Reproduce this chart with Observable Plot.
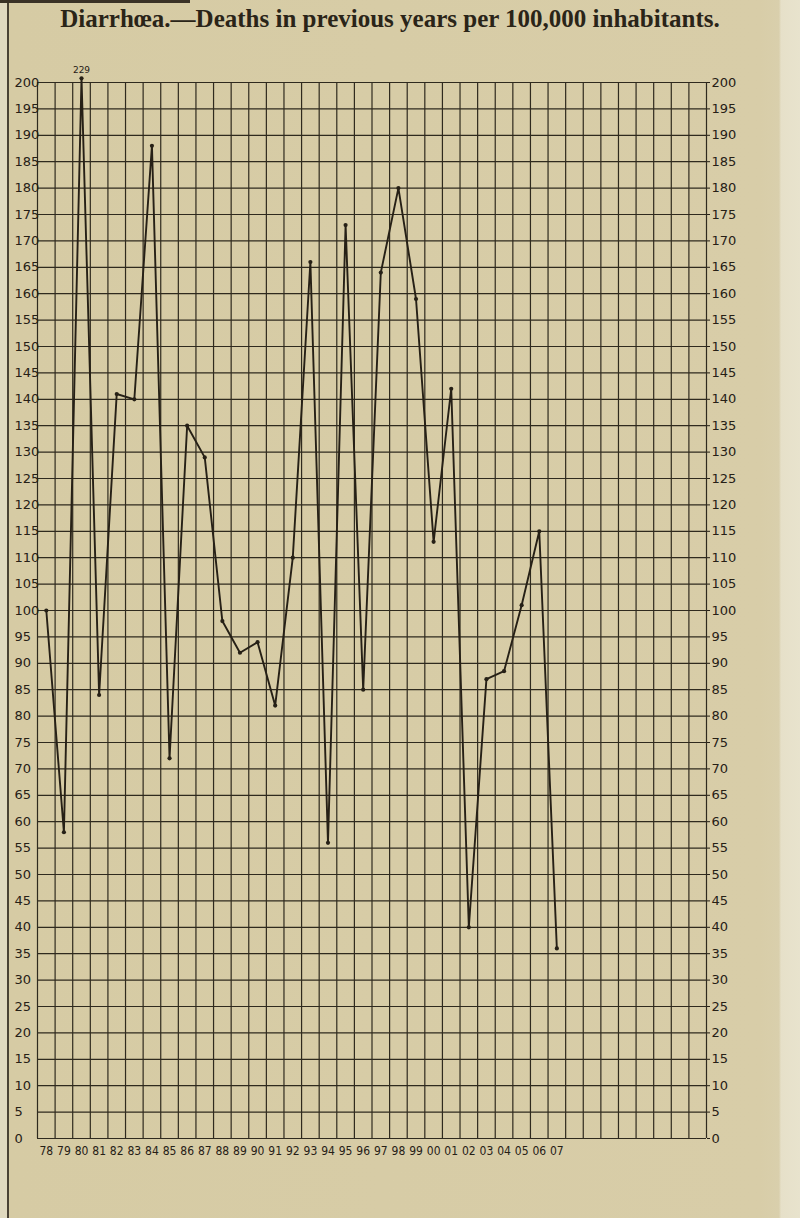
<!DOCTYPE html>
<html>
<head>
<meta charset="utf-8">
<script src="https://cdn.jsdelivr.net/npm/d3@7"></script>
<script src="https://cdn.jsdelivr.net/npm/@observablehq/plot@0.6"></script>
<style>
  html, body { margin: 0; padding: 0; }
  body {
    width: 800px; height: 1218px; position: relative; overflow: hidden;
    background: linear-gradient(to right, #e0d9bf 0px, #e0d9bf 7px, #4a4234 7px, #4a4234 9px, #d6cba4 9px, #d8cda8 760px, #d9cfac 779px, #e6e0c9 781px, #e8e3cd 800px);
  }
  #title {
    position: absolute; left: 0; top: 5px; width: 780px; text-align: center;
    font-family: "Liberation Serif", "DejaVu Serif", serif; font-weight: bold;
    font-size: 25px; color: #2a2418; letter-spacing: 0px;
  }
  #chart { position: absolute; left: 0; top: 50px; }
  .topbar { position: absolute; left: 0; top: 0; width: 190px; height: 3px; background: #3a3226; }
</style>
</head>
<body>
<div class="topbar"></div>
<div id="title">Diarrhœa.—Deaths in previous years per 100,000 inhabitants.</div>
<div id="chart"></div>
<script>
// Years (1878–1907) and their printed labels
const years = [1878, 1879, 1880, 1881, 1882, 1883, 1884, 1885, 1886, 1887,
               1888, 1889, 1890, 1891, 1892, 1893, 1894, 1895, 1896, 1897,
               1898, 1899, 1900, 1901, 1902, 1903, 1904, 1905, 1906, 1907];
const yearLabels = ["78", "79", "80", "81", "82", "83", "84", "85", "86", "87",
                    "88", "89", "90", "91", "92", "93", "94", "95", "96", "97",
                    "98", "99", "00", "01", "02", "03", "04", "05", "06", "07"];
// Deaths from diarrhoea per 100,000 inhabitants
const deaths = [100, 58, 229, 84, 141, 140, 188, 72, 135, 129,
                98, 92, 94, 82, 110, 166, 56, 173, 85, 164,
                180, 159, 113, 142, 40, 87, 88.5, 101, 115, 36];
// Y tick values
const yTicks = [0, 5, 10, 15, 20, 25, 30, 35, 40, 45, 50, 55, 60, 65, 70, 75, 80, 85, 90, 95, 100,
                105, 110, 115, 120, 125, 130, 135, 140, 145, 150, 155, 160, 165, 170, 175, 180, 185, 190, 195, 200];
// Chart grid extends beyond the data (columns of the ruled paper)
const xDomain = [1877.5, 1915.5];

const data = years.map((year, i) => ({year, label: yearLabels[i], value: deaths[i]}));
const yMax = 200;
const columnEdges = d3.range(xDomain[0], xDomain[1] + 0.01, 1);

const ink = "#262016";
const gridInk = "#2f2a1e";
const font = "'DejaVu Sans', 'Liberation Sans', sans-serif";

const chart = Plot.plot({
  width: 800,
  height: 1168,
  marginTop: 32,
  marginBottom: 80,
  marginLeft: 37,
  marginRight: 94,
  x: {domain: xDomain, label: null},
  y: {domain: [0, yMax], label: null},
  style: {background: "transparent", color: ink, fontFamily: font, overflow: "visible"},
  marks: [
    Plot.ruleY(yTicks, {stroke: gridInk, strokeWidth: 1.2}),
    Plot.ruleX(columnEdges, {stroke: gridInk, strokeWidth: 1.2}),
    Plot.axisY(yTicks, {anchor: "left", tickSize: 0, tickPadding: 0, textAnchor: "start", dx: -23,
      fontSize: 13, label: null, tickFormat: d => String(d), color: ink}),
    Plot.axisY(yTicks, {anchor: "right", tickSize: 3, tickPadding: 2, fontSize: 13, label: null,
      tickFormat: d => String(d), color: ink}),
    Plot.axisX(years, {anchor: "bottom", tickSize: 0, tickPadding: 8, fontSize: 12, label: null,
      fontFamily: "'Liberation Sans Narrow', 'DejaVu Sans Condensed', 'Roboto Condensed', 'Liberation Sans', sans-serif",
      fontStretch: "condensed",
      tickFormat: d => yearLabels[years.indexOf(d)], color: ink}),
    Plot.line(data, {x: "year", y: d => Math.min(d.value, yMax + 0.8), stroke: ink, strokeWidth: 1.9}),
    Plot.dot(data, {x: "year", y: d => Math.min(d.value, yMax + 0.8), r: 2.1, fill: ink, stroke: null}),
    Plot.text(data.filter(d => d.value > yMax), {x: "year", y: yMax, text: d => String(d.value),
      dy: -12, fontSize: 9, fill: ink})
  ]
});
document.getElementById("chart").appendChild(chart);
</script>
</body>
</html>
